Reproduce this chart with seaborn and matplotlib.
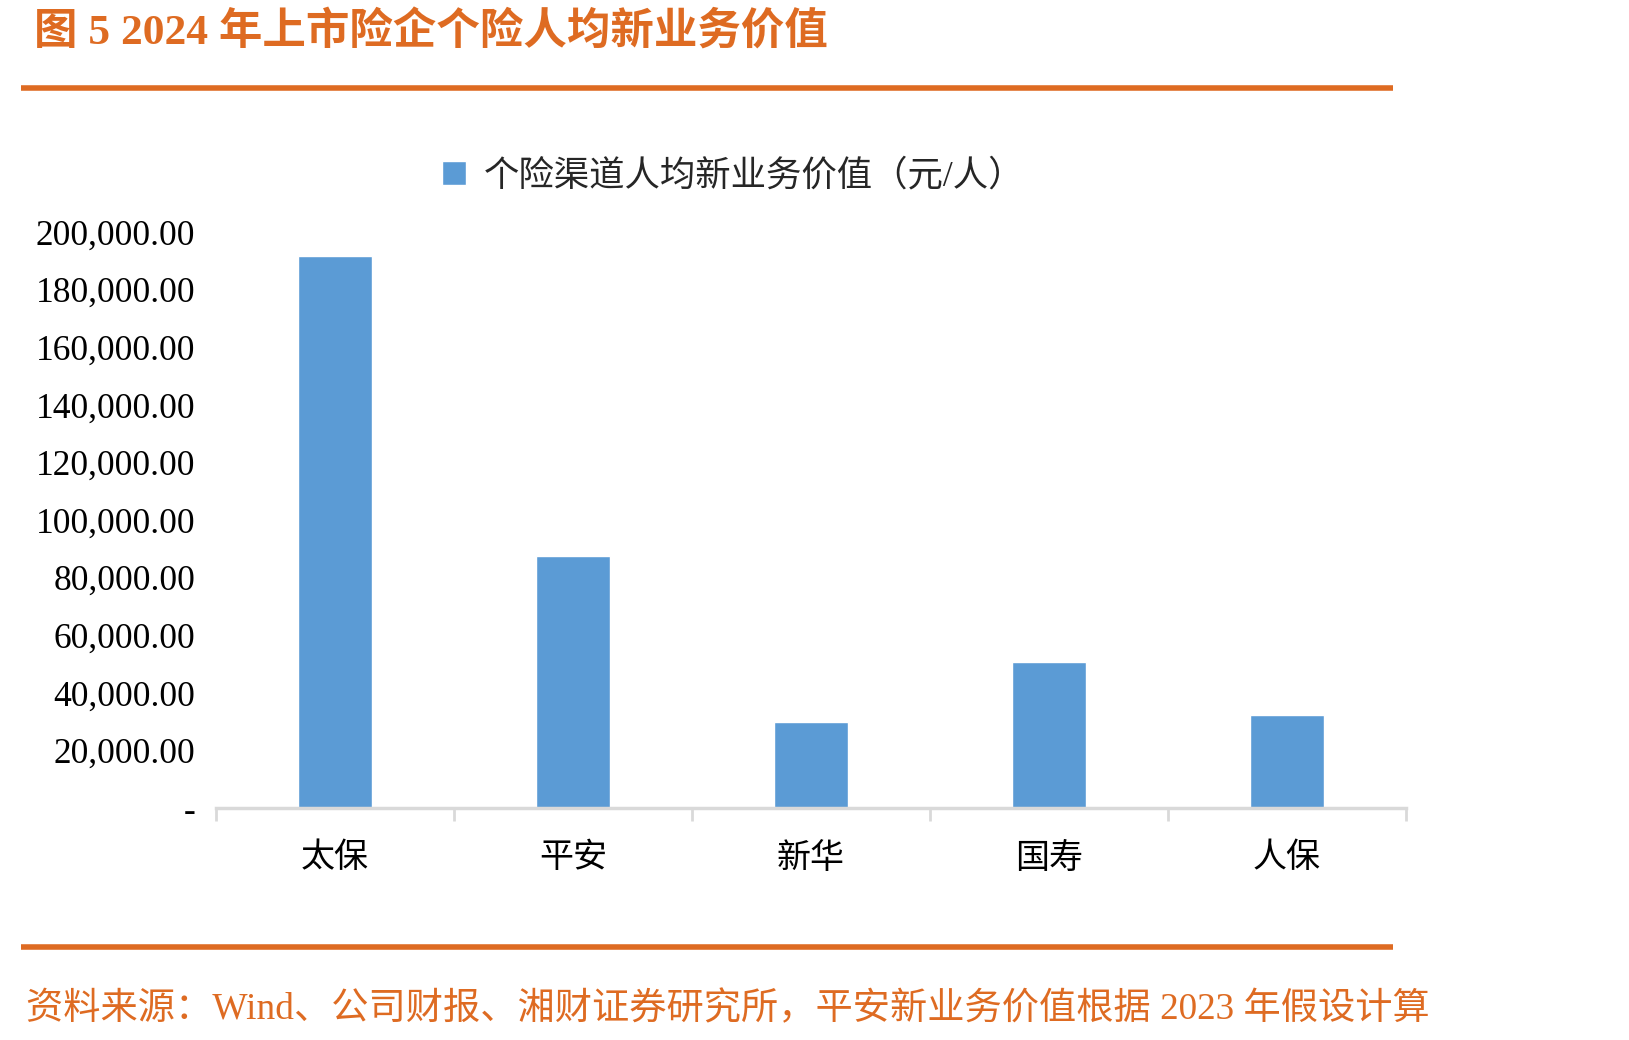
import matplotlib
matplotlib.use("Agg")
import matplotlib.pyplot as plt
import pandas as pd
import seaborn as sns
from matplotlib.ticker import FuncFormatter, FixedLocator

# data
companies = ["太保", "平安", "新华", "国寿", "人保"]
nbv_per_agent = [191700, 87600, 29900, 50800, 32400]
series_name = "个险渠道人均新业务价值（元/人）"
title_text = "图 5 2024 年上市险企个险人均新业务价值"
source_text = "资料来源：Wind、公司财报、湘财证券研究所，平安新业务价值根据 2023 年假设计算"
y_ticks = list(range(0, 200001, 20000))

ORANGE = "#DE6B22"
BLUE = "#5B9BD5"
GREY = "#D9D9D9"

sns.set_theme(style="white")
fonts = ["Liberation Serif", "Noto Sans CJK SC", "DejaVu Sans"]
plt.rcParams["font.family"] = fonts

df = pd.DataFrame({"company": companies, "value": nbv_per_agent})

fig = plt.figure(figsize=(16.29, 10.40), dpi=100)
ax = fig.add_axes([0.1326, 0.223, 0.7304, 0.554])

sns.barplot(data=df, x="company", y="value", color=BLUE, width=0.31,
            saturation=1, ax=ax, label=series_name)

ax.set_ylim(0, 200000)
ax.set_xlim(-0.5, len(companies) - 0.5)
ax.yaxis.set_major_locator(FixedLocator(y_ticks))
ax.yaxis.set_major_formatter(FuncFormatter(
    lambda v, p: "-" if v == 0 else f"{v:,.2f}"))
ax.tick_params(axis="y", length=0, pad=15, labelsize=25.5, labelcolor="black")
ax.tick_params(axis="x", which="major", length=0, pad=25, labelsize=24.5,
               labelcolor="black")
ax.set_xticks([i - 0.5 for i in range(len(companies) + 1)], minor=True)
ax.tick_params(axis="x", which="minor", length=9, width=2, color=GREY,
               direction="out")
ax.xaxis.set_ticks_position("bottom")
ax.set_xlabel("")
ax.set_ylabel("")
for side in ["top", "right", "left"]:
    ax.spines[side].set_visible(False)
ax.spines["bottom"].set_color(GREY)
ax.spines["bottom"].set_linewidth(2.5)

leg = ax.legend(loc="lower center", bbox_to_anchor=(0.4345, 1.012),
                frameon=False, fontsize=25.5, handlelength=0.68,
                handleheight=0.68, handletextpad=0.5)
for t in leg.get_texts():
    t.set_family(fonts)

fig.text(0.021, 0.969, title_text, color=ORANGE, fontsize=31.3,
         fontweight="bold", ha="left", va="center", family=fonts)
fig.text(0.016, 0.029, source_text, color=ORANGE, fontsize=26.8,
         ha="left", va="center", family=fonts)

for y in [0.9155, 0.0895]:
    fig.add_artist(plt.Line2D([0.013, 0.855], [y, y], color=ORANGE,
                              linewidth=4, solid_capstyle="butt"))

fig.savefig("out.png", dpi=100)
